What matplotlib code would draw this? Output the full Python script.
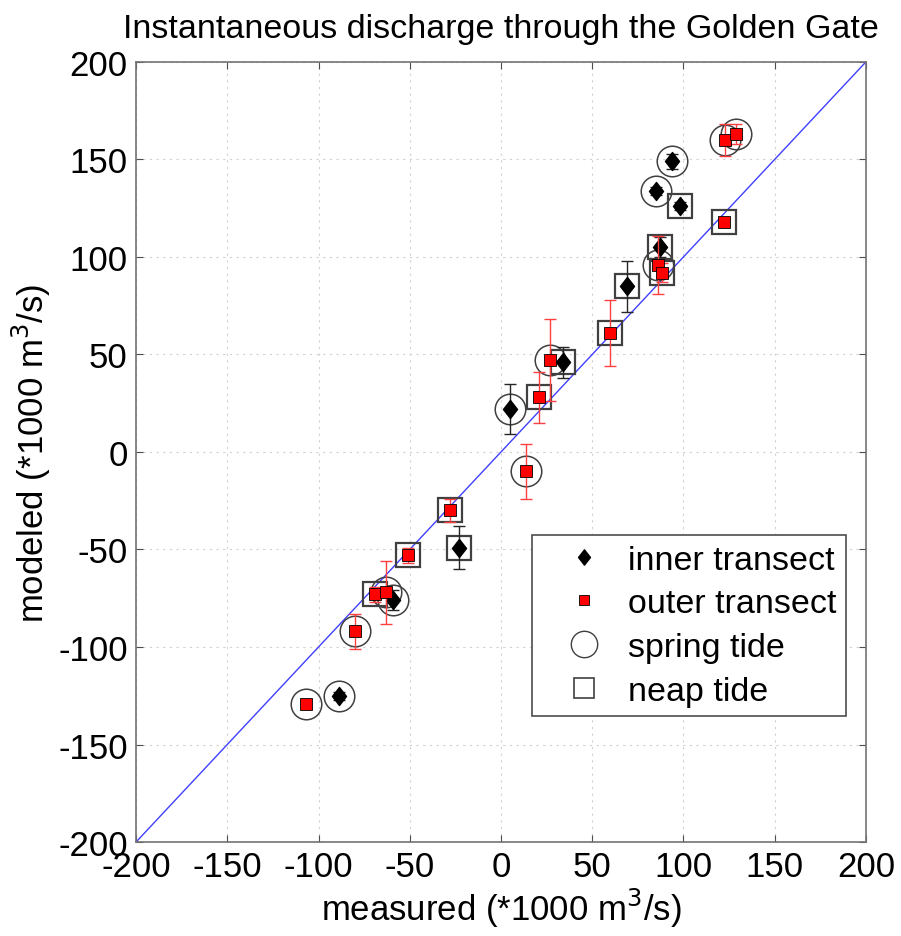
import matplotlib
matplotlib.use("Agg")
import matplotlib.pyplot as plt
from matplotlib.lines import Line2D
from matplotlib.path import Path

plt.rcParams['font.family'] = ['Liberation Sans', 'DejaVu Sans']
plt.rcParams['axes.unicode_minus'] = False

# inner transect (diamonds)
inner_x = [94, 85, 98, 87, 69, 34, 5, -23, -59, -89]
inner_y = [149, 134, 126, 105, 85, 46, 22, -49, -76, -125]
inner_err = [4, 2, 2, 5, 13, 8, 13, 11, 5, 2]
inner_tide = ['spring', 'spring', 'neap', 'neap', 'neap', 'neap', 'spring', 'neap', 'spring', 'spring']

# outer transect (red squares)
outer_x = [123, 129, 122, 86, 88, 60, 27, 21, 14, -28, -51, -69, -63, -80, -107]
outer_y = [160, 163, 118, 96, 92, 61, 47, 28, -10, -30, -53, -73, -72, -92, -129]
outer_err = [8, 5, 2, 15, 5, 17, 21, 13, 14, 6, 4, 4, 16, 9, 2]
outer_tide = ['spring', 'spring', 'neap', 'spring', 'neap', 'neap', 'spring', 'neap',
              'spring', 'neap', 'neap', 'neap', 'spring', 'spring', 'spring']

ticks = [-200, -150, -100, -50, 0, 50, 100, 150, 200]

diamond = Path([(0, 1), (0.78, 0), (0, -1), (-0.78, 0), (0, 1)],
               [Path.MOVETO, Path.LINETO, Path.LINETO, Path.LINETO, Path.CLOSEPOLY])

fig = plt.figure(figsize=(9.01, 9.37), dpi=100)
ax = fig.add_axes([0.151, 0.1003, 0.810, 0.8325])

ax.plot([-200, 200], [-200, 200], color='#4040ff', lw=1.0, zorder=2)


def tide_outline(x, y, tide):
    if tide == 'spring':
        ax.plot(x, y, 'o', ms=22, mfc='none', mec='0.25', mew=1.1, zorder=3)
    else:
        ax.plot(x, y, 's', ms=17, mfc='none', mec='0.25', mew=1.6, zorder=3)


for x, y, t in zip(inner_x, inner_y, inner_tide):
    tide_outline(x, y, t)
for x, y, t in zip(outer_x, outer_y, outer_tide):
    tide_outline(x, y, t)

ax.errorbar(inner_x, inner_y, yerr=inner_err, fmt='none', ecolor='0.15',
            elinewidth=1.0, capsize=4, capthick=1.0, zorder=4)
ax.plot(inner_x, inner_y, ls='none', marker=diamond, ms=13, mfc='k', mec='k', zorder=5)

ax.errorbar(outer_x, outer_y, yerr=outer_err, fmt='none', ecolor='#ff4040',
            elinewidth=1.0, capsize=4, capthick=1.0, zorder=6)
ax.plot(outer_x, outer_y, 's', ms=8.6, mfc='red', mec='k', mew=0.6, zorder=7)

ax.set_xlim(-200, 200)
ax.set_ylim(-200, 200)
ax.set_xticks(ticks)
ax.set_yticks(ticks)
ax.tick_params(direction='in', length=5, top=True, right=True, labelsize=25,
               color='0.3', pad=6)
ax.grid(True, ls=(0, (2, 4)), color='0.82', lw=0.8)
for s in ax.spines.values():
    s.set_color('0.45')
    s.set_linewidth(1.2)

ax.set_xlabel('measured (*1000 m$^3$/s)', fontsize=25, labelpad=2)
ax.set_ylabel('modeled (*1000 m$^3$/s)', fontsize=25, labelpad=4)
ax.set_title('Instantaneous discharge through the Golden Gate', fontsize=24.5, pad=18)

handles = [
    Line2D([], [], ls='none', marker=diamond, ms=11, mfc='k', mec='k'),
    Line2D([], [], ls='none', marker='s', ms=7.5, mfc='red', mec='k', mew=0.6),
    Line2D([], [], ls='none', marker='o', ms=19, mfc='none', mec='0.25', mew=1.0),
    Line2D([], [], ls='none', marker='s', ms=14, mfc='none', mec='0.25', mew=1.2),
]
labels = ['inner transect', 'outer transect', 'spring tide', 'neap tide']
leg = ax.legend(handles, labels, loc='lower right', bbox_to_anchor=(0.9726, 0.1615),
                borderaxespad=0, fontsize=24.5, fancybox=False, framealpha=1,
                edgecolor='0.3', labelspacing=0.37, handletextpad=0.05,
                borderpad=0.28, handlelength=2.5)
leg.get_frame().set_linewidth(1.2)

fig.savefig('out.png', dpi=100)
